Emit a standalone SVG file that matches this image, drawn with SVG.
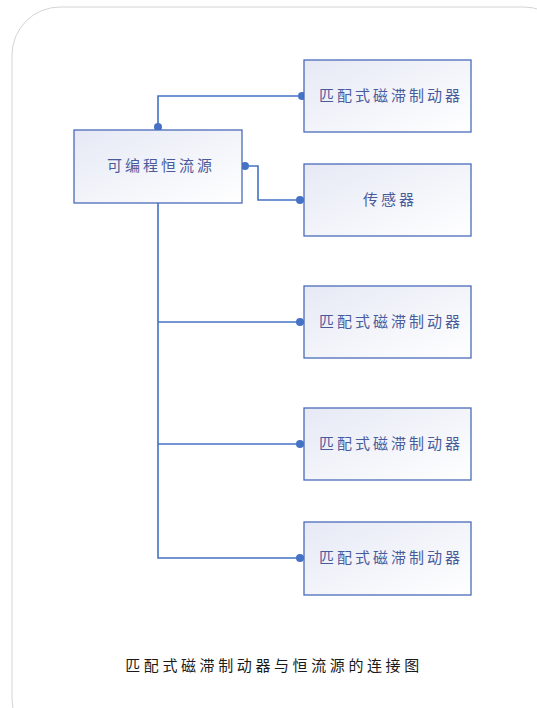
<svg xmlns="http://www.w3.org/2000/svg" width="537" height="708" viewBox="0 0 537 708">
  <defs>
    <linearGradient id="boxFill" x1="0" y1="0" x2="1" y2="1">
      <stop offset="0" stop-color="#e6e9f5"/>
      <stop offset="1" stop-color="#ffffff"/>
    </linearGradient>
    <marker id="dot" viewBox="0 0 10 10" refX="5" refY="5" markerWidth="8" markerHeight="8" markerUnits="userSpaceOnUse">
      <circle cx="5" cy="5" r="5" fill="#4472c4"/>
    </marker>
  </defs>
  <style>
    .box { fill: url(#boxFill); stroke: #4a6cb8; stroke-width: 1.3; }
    .label { font-family: "Noto Sans CJK SC", "Noto Sans", sans-serif; font-size: 15px; fill: #4a5b9c; text-anchor: middle; dominant-baseline: central; }
    .wide { letter-spacing: 3px; }
    .mid { letter-spacing: 3px; }
    .wire { fill: none; stroke: #4472c4; stroke-width: 1.6; }
    .caption { font-family: "Noto Sans CJK SC", "Noto Sans", sans-serif; font-size: 15px; fill: #1a1a1a; text-anchor: middle; letter-spacing: 3.6px; }
  </style>

  <rect x="0" y="0" width="537" height="708" fill="#ffffff"/>
  <!-- outer frame -->
  <rect x="12" y="7" width="560" height="740" rx="48" ry="48" fill="#ffffff" stroke="#d4d4d4" stroke-width="1"/>

  <g id="connectors">
    <polyline class="wire" points="158,127 158,96 302,96" marker-start="url(#dot)" marker-end="url(#dot)"/>
    <polyline class="wire" points="245,166 258,166 258,200 300,200" marker-start="url(#dot)" marker-end="url(#dot)"/>
    <polyline class="wire" points="158,203 158,558 300,558" marker-end="url(#dot)"/>
    <polyline class="wire" points="158,322 300,322" marker-end="url(#dot)"/>
    <polyline class="wire" points="158,444 300,444" marker-end="url(#dot)"/>
  </g>

  <g id="source">
    <rect class="box" x="74" y="130" width="168" height="73"/>
    <text class="label mid" x="161" y="164.5">可编程恒流源</text>
  </g>
  <g id="brake1">
    <rect class="box" x="304" y="60" width="167" height="72"/>
    <text class="label wide" x="391" y="94.5">匹配式磁滞制动器</text>
  </g>
  <g id="sensor">
    <rect class="box" x="304" y="164" width="167" height="72"/>
    <text class="label wide" x="390" y="198.5">传感器</text>
  </g>
  <g id="brake2">
    <rect class="box" x="304" y="286" width="167" height="72"/>
    <text class="label wide" x="391" y="320.5">匹配式磁滞制动器</text>
  </g>
  <g id="brake3">
    <rect class="box" x="304" y="408" width="167" height="72"/>
    <text class="label wide" x="391" y="442.5">匹配式磁滞制动器</text>
  </g>
  <g id="brake4">
    <rect class="box" x="304" y="522" width="167" height="73"/>
    <text class="label wide" x="391" y="556.5">匹配式磁滞制动器</text>
  </g>

  <text class="caption" x="274" y="671">匹配式磁滞制动器与恒流源的连接图</text>
</svg>
